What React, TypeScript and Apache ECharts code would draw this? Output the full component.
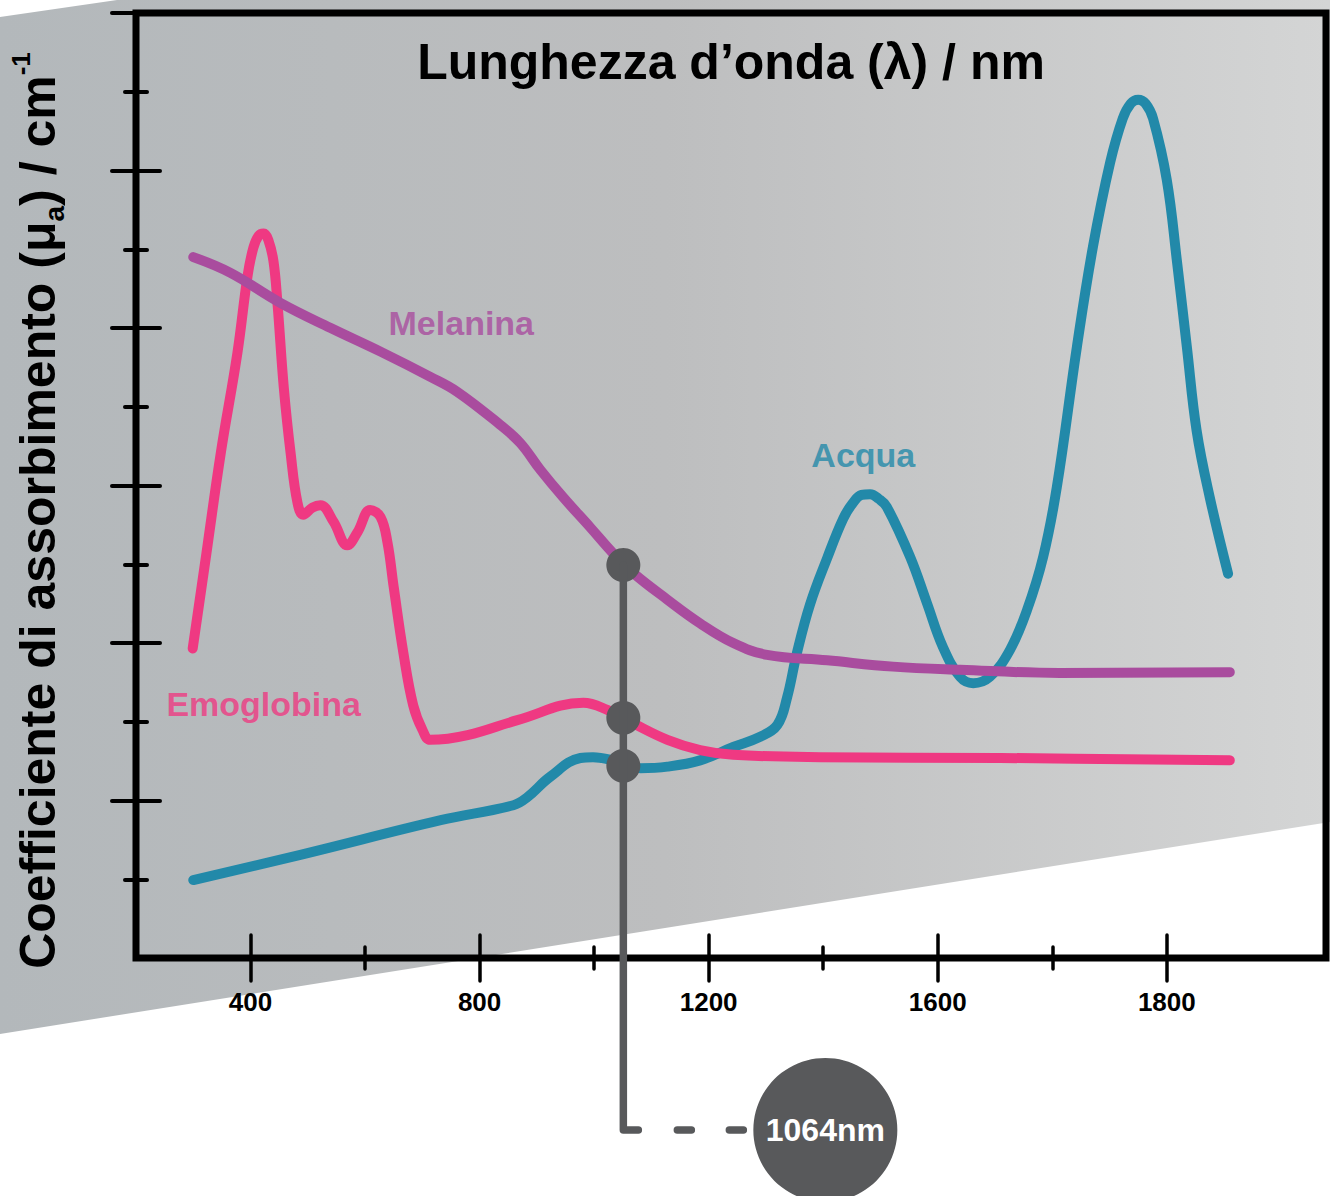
import { useEffect, useRef } from "react";
import * as echarts from "echarts";

const FONT = "'Liberation Sans', Arial, Helvetica, sans-serif";

// x axis (wavelength, nm) and y axis (absorption, arbitrary units)
const X_MIN = 200;
const X_MAX = 2278;
const Y_MIN = 0;
const Y_MAX = 12;
const xMajorTicks = [400, 800, 1200, 1600, 2000];
const xTickLabels = ["400", "800", "1200", "1600", "1800"];
const xMinorTicks = [600, 1000, 1400, 1800];
const yMajorTicks = [2, 4, 6, 8, 10, 12];
const yMinorTicks = [1, 3, 5, 7, 9, 11];

// Melanina
const melaninNm = [300, 365, 452, 540, 627, 714, 761, 836, 871, 906, 946, 993, 1033, 1068, 1128, 1185, 1243, 1302, 1407, 1522, 1639, 1813, 2110];
const melaninMu = [8.9, 8.7, 8.32, 8.0, 7.7, 7.38, 7.19, 6.77, 6.54, 6.2, 5.85, 5.47, 5.14, 4.89, 4.55, 4.25, 4.0, 3.85, 3.78, 3.7, 3.66, 3.62, 3.63];

// Emoglobina
const hemoNm = [299, 323, 348, 377, 395, 405, 414, 423, 431, 440, 447, 458, 470, 482, 492, 508, 522, 545, 569, 587, 609, 627, 639, 650, 667, 684, 700, 714, 779, 866, 981, 1023, 1068, 1128, 1185, 1243, 1395, 1709, 2110];
const hemoMu = [3.93, 5.14, 6.41, 7.68, 8.67, 9.02, 9.17, 9.2, 9.12, 8.85, 8.32, 7.25, 6.41, 5.78, 5.63, 5.72, 5.75, 5.54, 5.24, 5.41, 5.69, 5.6, 5.28, 4.71, 3.87, 3.21, 2.9, 2.77, 2.83, 3.02, 3.24, 3.15, 2.98, 2.77, 2.64, 2.58, 2.55, 2.54, 2.51];

// Acqua
const waterNm = [300, 487, 732, 859, 883, 923, 976, 998, 1033, 1081, 1128, 1185, 1243, 1290, 1320, 1337, 1354, 1377, 1407, 1435, 1452, 1467, 1482, 1497, 1511, 1552, 1581, 1609, 1639, 1662, 1691, 1726, 1756, 1784, 1808, 1843, 1871, 1901, 1923, 1937, 1950, 1963, 1976, 2000, 2018, 2035, 2052, 2075, 2107];
const waterMu = [0.99, 1.31, 1.75, 1.94, 2.04, 2.3, 2.54, 2.55, 2.51, 2.41, 2.43, 2.51, 2.68, 2.81, 2.96, 3.31, 3.87, 4.49, 5.08, 5.58, 5.78, 5.88, 5.89, 5.83, 5.73, 5.09, 4.51, 3.95, 3.57, 3.49, 3.57, 3.91, 4.42, 5.09, 5.98, 7.76, 9.03, 10.1, 10.66, 10.85, 10.9, 10.85, 10.66, 9.88, 8.83, 7.76, 6.7, 5.85, 4.88];

// 1064 nm marker
const markerNm = 1051;
const markerMu = [4.99, 3.05, 2.44];
const markerText = "1064nm";
const calloutMu = -2.184;

// series name labels
const labelNames = ["Melanina", "Acqua", "Emoglobina"];
const labelNm = [768, 1470, 423];
const labelMu = [8.06, 6.39, 3.23];

const COLORS = {
  melanin: "#a94c9e",
  hemo: "#ef3982",
  water: "#2289a9",
  marker: "#58595b",
};
const labelColors = [COLORS.melanin, COLORS.water, COLORS.hemo];

const zip = (a: number[], b: number[]) => a.map((v, i) => [v, b[i]]);

export default function App() {
  const ref = useRef<HTMLDivElement>(null);

  useEffect(() => {
    if (!ref.current) return;
    const chart = echarts.init(ref.current, null, { renderer: "svg" });

    const xBase = {
      type: "value",
      min: X_MIN,
      max: X_MAX,
      position: "bottom",
      axisLine: { show: false, onZero: false },
      splitLine: { show: false },
      axisLabel: { show: false },
      axisTick: { show: false },
    };
    const yBase = {
      type: "value",
      min: Y_MIN,
      max: Y_MAX,
      position: "left",
      axisLine: { show: false, onZero: false },
      splitLine: { show: false },
      axisLabel: { show: false },
      axisTick: { show: false },
    };
    const tickStyle = (w: number) => ({ color: "#000", width: w, cap: "round" });

    const lineSeries = (name: string, nm: number[], mu: number[], color: string) => ({
      type: "line",
      name,
      data: zip(nm, mu),
      smooth: 0.4,
      symbol: "none",
      lineStyle: { color, width: 10, cap: "round", join: "round" },
      silent: true,
      z: 3,
    });

    const option = {
      animation: false,
      backgroundColor: "#ffffff",
      grid: {
        left: 135,
        right: 4,
        top: 13,
        bottom: 238,
        show: true,
        borderColor: "#000",
        borderWidth: 7,
        backgroundColor: "transparent",
        z: 1,
      },
      graphic: [
        {
          type: "polygon",
          z: -10,
          silent: true,
          shape: {
            points: [
              [0, 17],
              [117, 0],
              [1330, 0],
              [1330, 822],
              [0, 1034],
            ],
          },
          style: {
            fill: new echarts.graphic.LinearGradient(0, 0, 1, 0, [
              { offset: 0, color: "#b3b8bb" },
              { offset: 0.5, color: "#bdbebf" },
              { offset: 1, color: "#d4d5d5" },
            ]),
          },
        },
        {
          type: "text",
          z: 10,
          silent: true,
          x: 731,
          y: 62,
          style: {
            text: "Lunghezza d’onda (λ) / nm",
            fill: "#000",
            font: `bold 50px ${FONT}`,
            align: "center",
            verticalAlign: "middle",
          },
        },
      ],
      xAxis: [
        {
          ...xBase,
          axisLabel: {
            show: true,
            customValues: xMajorTicks,
            margin: 31,
            color: "#000",
            fontSize: 26,
            fontWeight: "bold",
            fontFamily: FONT,
            formatter: (v: number) => {
              const i = xMajorTicks.indexOf(v);
              return i >= 0 ? xTickLabels[i] : "";
            },
          },
        },
        {
          ...xBase,
          offset: -23,
          axisTick: { show: true, customValues: xMajorTicks, length: 46, lineStyle: tickStyle(3.5) },
        },
        {
          ...xBase,
          offset: -11,
          axisTick: { show: true, customValues: xMinorTicks, length: 22, lineStyle: tickStyle(3.5) },
        },
      ],
      yAxis: [
        {
          ...yBase,
          name: "Coefficiente di assorbimento (μ{sub|a}) / cm{sup|-1}",
          nameLocation: "middle",
          nameRotate: 90,
          nameGap: 68,
          nameTextStyle: {
            color: "#000",
            fontSize: 50,
            fontWeight: "bold",
            fontFamily: FONT,
            padding: [0, 50, 0, 0],
            rich: {
              sub: {
                color: "#000",
                fontSize: 28,
                fontWeight: "bold",
                fontFamily: FONT,
                verticalAlign: "bottom",
                lineHeight: 60,
              },
              sup: {
                color: "#000",
                fontSize: 26,
                fontWeight: "bold",
                fontFamily: FONT,
                verticalAlign: "top",
                lineHeight: 60,
              },
            },
          },
        },
        {
          ...yBase,
          offset: -24,
          axisTick: { show: true, customValues: yMajorTicks, length: 48, lineStyle: tickStyle(4) },
        },
        {
          ...yBase,
          offset: -11,
          axisTick: { show: true, customValues: yMinorTicks, length: 22, lineStyle: tickStyle(4) },
        },
      ],
      series: [
        lineSeries("Acqua", waterNm, waterMu, COLORS.water),
        lineSeries("Emoglobina", hemoNm, hemoMu, COLORS.hemo),
        lineSeries("Melanina", melaninNm, melaninMu, COLORS.melanin),
        {
          type: "custom",
          name: "marker",
          clip: false,
          silent: true,
          z: 6,
          data: [[markerNm, markerMu[0]]],
          encode: { x: 0, y: 1 },
          renderItem: (_p: any, api: any) => {
            const top = api.coord([api.value(0), api.value(1)]);
            const corner = api.coord([api.value(0), calloutMu]);
            const cx = corner[0] + 202;
            const cy = corner[1];
            const st = { stroke: COLORS.marker, lineWidth: 7.5, lineCap: "round", lineJoin: "round", fill: null };
            return {
              type: "group",
              children: [
                {
                  type: "polyline",
                  shape: { points: [top, corner, [corner[0] + 15, corner[1]]] },
                  style: st,
                },
                {
                  type: "line",
                  shape: { x1: corner[0] + 54, y1: cy, x2: corner[0] + 68, y2: cy },
                  style: st,
                },
                {
                  type: "line",
                  shape: { x1: corner[0] + 106, y1: cy, x2: corner[0] + 120, y2: cy },
                  style: st,
                },
                {
                  type: "circle",
                  shape: { cx, cy, r: 72 },
                  style: { fill: COLORS.marker },
                },
                {
                  type: "text",
                  style: {
                    text: markerText,
                    x: cx,
                    y: cy,
                    align: "center",
                    verticalAlign: "middle",
                    fill: "#fff",
                    font: `bold 32px ${FONT}`,
                  },
                },
              ],
            };
          },
        },
        {
          type: "scatter",
          name: "dots",
          silent: true,
          z: 5,
          symbolSize: 34,
          itemStyle: { color: COLORS.marker, opacity: 1 },
          data: markerMu.map((m) => [markerNm, m]),
        },
        {
          type: "scatter",
          name: "labels",
          silent: true,
          z: 7,
          symbolSize: 1,
          itemStyle: { color: "transparent" },
          data: labelNames.map((n, i) => ({
            name: n,
            value: [labelNm[i], labelMu[i]],
            label: {
              show: true,
              position: "inside",
              formatter: n,
              color: labelColors[i],
              fontSize: 34,
              fontWeight: "bold",
              fontFamily: FONT,
            },
          })),
        },
      ],
    };

    chart.setOption(option as any);
    return () => chart.dispose();
  }, []);

  return (
    <div
      ref={ref}
      style={{ position: "fixed", left: 0, top: 0, width: 1330, height: 1196 }}
    />
  );
}
